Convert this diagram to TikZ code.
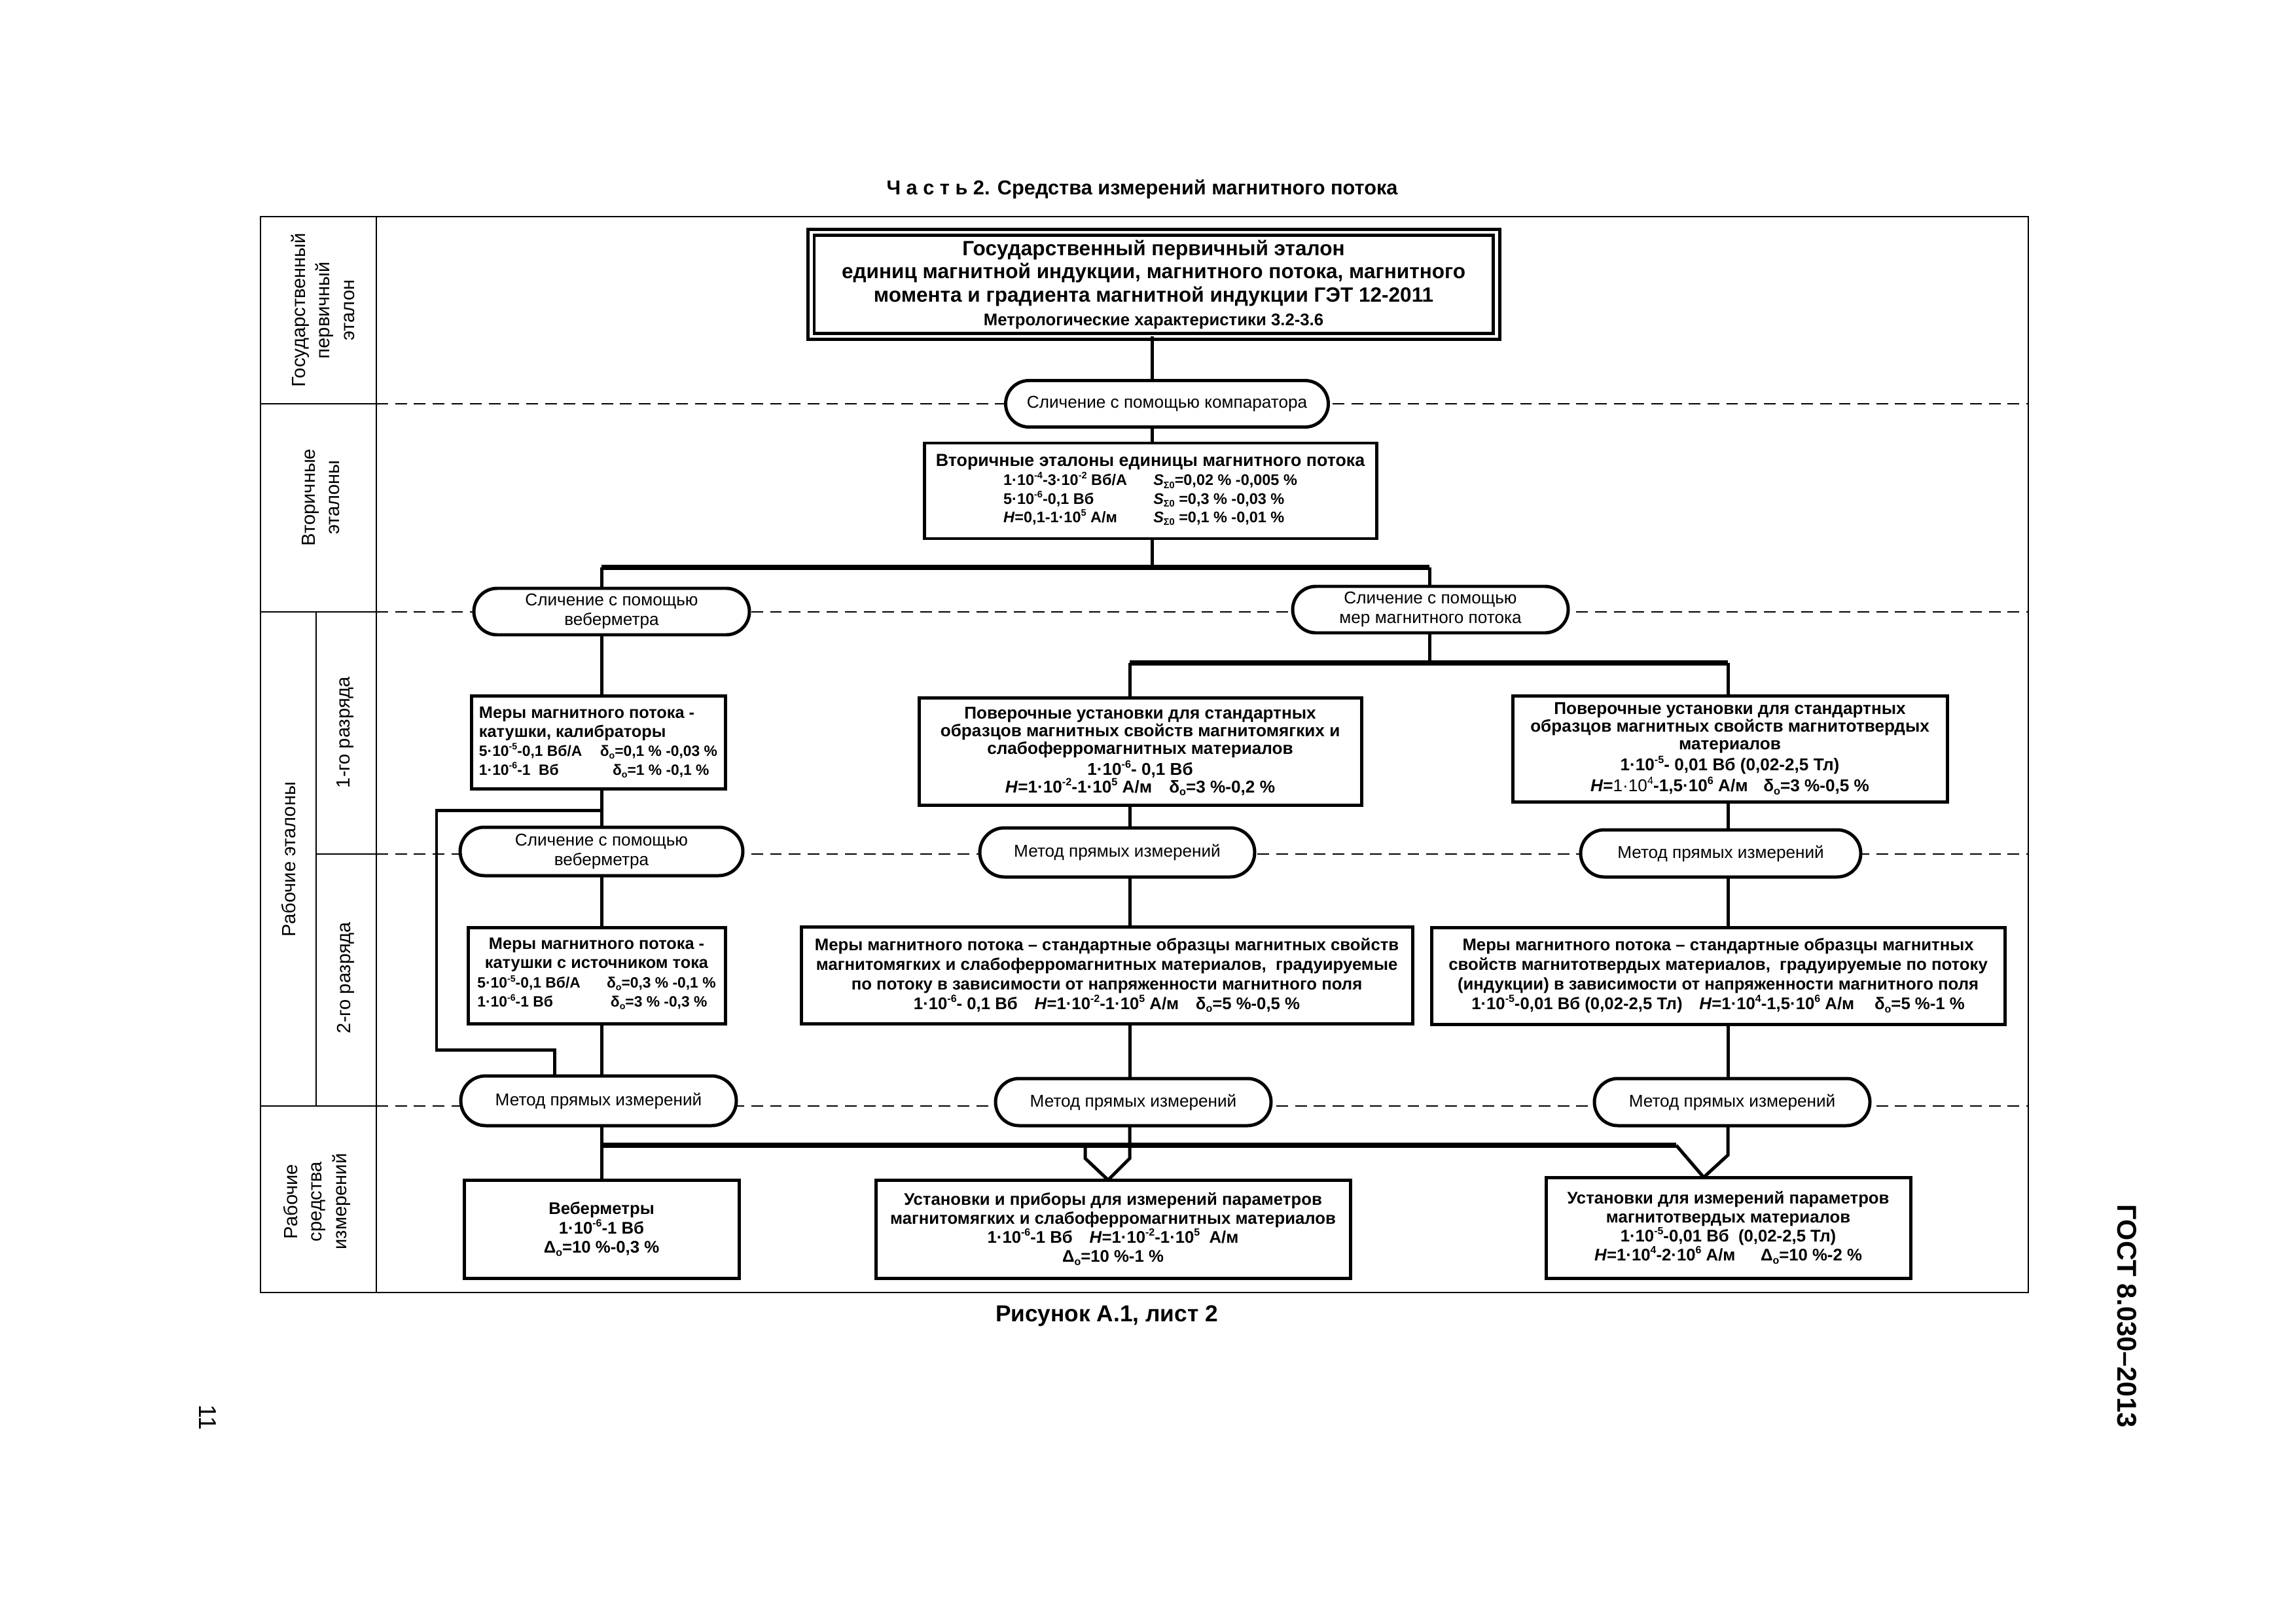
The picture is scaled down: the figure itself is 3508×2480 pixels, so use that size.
\documentclass[tikz,border=0pt]{standalone}
\usepackage{fontspec}
\setmainfont{Liberation Sans}
\usepackage{graphicx}
\usetikzlibrary{shapes.misc}
\newcommand\setfs[2]{\fontsize{#1}{#2}\selectfont}
\newcommand\sups[1]{\raisebox{0.42em}{\scalebox{0.62}{#1}}}
\newcommand\subs[1]{\raisebox{-0.18em}{\scalebox{0.62}{#1}}}
\def\pxu{0.08466mm}
\begin{document}
\begin{tikzpicture}[x=0.08466mm, y=-0.08466mm,
  every node/.style={inner sep=0pt, outer sep=0pt},
  frameline/.style={line width=0.5pt},
  rowdash/.style={line width=0.6pt, dash pattern=on 4.3pt off 2.6pt},
  conn/.style={line width=1.2pt},
  busline/.style={line width=1.7pt},
  rbox/.style={draw, line width=1.2pt, fill=white, align=center},
  oval/.style={draw, rounded rectangle, line width=1.2pt, fill=white, align=center, font=\setfs{6.3}{7.2}},
  rowlabel/.style={rotate=90, align=center, font=\setfs{7}{9}}]
\useasboundingbox[fill=white] (0,0) rectangle (3508,2480);

% frame
\draw[frameline] (398,331) rectangle (3099,1975);
\draw[frameline] (575,331) -- (575,1975);
\draw[frameline] (483,935) -- (483,1690);
\draw[frameline] (398,617) -- (575,617);
\draw[frameline] (398,935) -- (575,935);
\draw[frameline] (483,1305) -- (575,1305);
\draw[frameline] (398,1690) -- (575,1690);
\draw[rowdash] (575,617) -- (3099,617);
\draw[rowdash] (575,935) -- (3099,935);
\draw[rowdash] (575,1305) -- (3099,1305);
\draw[rowdash] (575,1690) -- (3099,1690);

% texts outside
\node[font=\setfs{7.4}{8}\bfseries] (title) at (1745,289) {Ч а с т ь 2. Средства измерений магнитного потока};
\node[font=\setfs{8.5}{10}\bfseries] (cap) at (1691,2011) {Рисунок А.1, лист 2};
\node[rotate=-90, font=\setfs{10}{12}\bfseries] (gost) at (3250,2011) {ГОСТ 8.030–2013};
\node[rotate=-90, font=\setfs{9}{10}] (pg) at (317,2166) {11};

% row labels
\node[rowlabel] (lab1) at (493,474) {Государственный\\первичный\\эталон};
\node[rowlabel] (lab2) at (490,760) {Вторичные\\эталоны};
\node[rowlabel] (lab3) at (441,1313) {Рабочие эталоны};
\node[rowlabel] (lab4) at (528,1119) {1-го разряда};
\node[rowlabel] (lab5) at (528,1494) {2-го разряда};
\node[rowlabel] (lab6) at (484,1836) {Рабочие\\средства\\измерений};

% nodes
\node[rbox, double, double distance=1.2pt, minimum width=1047*\pxu, minimum height=159*\pxu,
  font=\setfs{7.6}{8.6}\bfseries] (prim) at (1762.5,434.5)
  {Государственный первичный эталон\\
   единиц магнитной индукции, магнитного потока, магнитного\\
   момента и градиента магнитной индукции ГЭТ 12-2011\\
   {\fontsize{6.2}{8.6}\selectfont Метрологические характеристики 3.2-3.6}};

\node[oval, minimum width=493*\pxu, minimum height=71*\pxu] (C1) at (1783,617) {Сличение с помощью компаратора};

\node[rbox, minimum width=691*\pxu, minimum height=146*\pxu, font=\setfs{6.45}{6.6}\bfseries] (V) at (1757.5,750)
  {Вторичные эталоны единицы магнитного потока\\
   {\fontsize{5.65}{6.6}\selectfont\begin{tabular}{@{}l@{\hspace{3.4mm}}l@{}}
   1·10\sups{-4}-3·10\sups{-2} Вб/А & \textit{S}\subs{Σ0}=0,02 \% -0,005 \%\\
   5·10\sups{-6}-0,1 Вб & \textit{S}\subs{Σ0} =0,3 \% -0,03 \%\\
   \textit{H}=0,1-1·10\sups{5} А/м & \textit{S}\subs{Σ0} =0,1 \% -0,01 \%
   \end{tabular}}};

\node[oval, minimum width=421*\pxu, minimum height=71*\pxu] (C2) at (934.5,934.5) {Сличение с помощью\\веберметра};
\node[oval, minimum width=421*\pxu, minimum height=71*\pxu] (C3) at (2185.5,931.5) {Сличение с помощью\\мер магнитного потока};

\node[rbox, minimum width=388*\pxu, minimum height=142*\pxu, align=left, font=\setfs{6.1}{7}\bfseries] (M1) at (914,1134)
  {Меры магнитного потока -\\
   катушки, калибраторы\\
   {\fontsize{5.5}{7}\selectfont 5·10\sups{-5}-0,1 Вб/А\hspace{1.2em}δ\subs{o}=0,1 \% -0,03 \%}\\
   {\fontsize{5.5}{7}\selectfont 1·10\sups{-6}-1 \ Вб\hspace{3.6em}δ\subs{o}=1 \% -0,1 \%}};

\node[rbox, minimum width=676*\pxu, minimum height=164*\pxu, font=\setfs{6.3}{6.5}\bfseries] (P1) at (1742,1148)
  {Поверочные установки для стандартных\\
   образцов магнитных свойств магнитомягких и\\
   слабоферромагнитных материалов\\
   1·10\sups{-6}- 0,1 Вб\\
   \textit{H}=1·10\sups{-2}-1·10\sups{5} А/м\hspace{1em}δ\subs{o}=3 \%-0,2 \%};

\node[rbox, minimum width=664*\pxu, minimum height=162*\pxu, font=\setfs{6.3}{6.5}\bfseries] (P2) at (2643,1144)
  {Поверочные установки для стандартных\\
   образцов магнитных свойств магнитотвердых\\
   материалов\\
   1·10\sups{-5}- 0,01 Вб (0,02-2,5 Тл)\\
   \textit{H}={\mdseries 1·10\sups{4}}-1,5·10\sups{6} А/м\hspace{0.9em}δ\subs{o}=3 \%-0,5 \%};

\node[oval, minimum width=432*\pxu, minimum height=74*\pxu] (C4) at (919,1301) {Сличение с помощью\\веберметра};
\node[oval, minimum width=420*\pxu, minimum height=75*\pxu] (C8) at (1707,1302.5) {Метод прямых измерений};
\node[oval, minimum width=428*\pxu, minimum height=72*\pxu] (C9) at (2629,1304) {Метод прямых измерений};

\node[rbox, minimum width=393*\pxu, minimum height=147*\pxu, font=\setfs{6.1}{7}\bfseries] (M2) at (911.5,1490.5)
  {Меры магнитного потока -\\
   катушки с источником тока\\
   {\fontsize{5.5}{7}\selectfont\begin{tabular}{@{}l@{\hspace{3.4mm}}l@{}}
   5·10\sups{-5}-0,1 Вб/А & δ\subs{o}=0,3 \% -0,1 \%\\
   1·10\sups{-6}-1 Вб & \hspace{0.5mm}δ\subs{o}=3 \% -0,3 \%
   \end{tabular}}};

\node[rbox, minimum width=934*\pxu, minimum height=148*\pxu, font=\setfs{6.2}{7.2}\bfseries] (M3) at (1691,1490)
  {Меры магнитного потока – стандартные образцы магнитных свойств\\
   магнитомягких и слабоферромагнитных материалов,\ \ градуируемые\\
   по потоку в зависимости от напряженности магнитного поля\\
   1·10\sups{-6}- 0,1 Вб\hspace{1em}\textit{H}=1·10\sups{-2}-1·10\sups{5} А/м\hspace{1em}δ\subs{o}=5 \%-0,5 \%};

\node[rbox, minimum width=876*\pxu, minimum height=148*\pxu, font=\setfs{6.2}{7.2}\bfseries] (M4) at (2625,1491)
  {Меры магнитного потока – стандартные образцы магнитных\\
   свойств магнитотвердых материалов,\ \ градуируемые по потоку\\
   (индукции) в зависимости от напряженности магнитного поля\\
   1·10\sups{-5}-0,01 Вб (0,02-2,5 Тл)\hspace{1em}\textit{H}=1·10\sups{4}-1,5·10\sups{6} А/м\hspace{1.2em}δ\subs{o}=5 \%-1 \%};

\node[oval, minimum width=421*\pxu, minimum height=76*\pxu] (C5) at (914.5,1682) {Метод прямых измерений};
\node[oval, minimum width=421*\pxu, minimum height=72*\pxu] (C6) at (1731.5,1684) {Метод прямых измерений};
\node[oval, minimum width=421*\pxu, minimum height=72*\pxu] (C7) at (2646.5,1684) {Метод прямых измерений};

\node[rbox, minimum width=420*\pxu, minimum height=150*\pxu, font=\setfs{6.2}{7.2}\bfseries] (W1) at (919,1878)
  {Веберметры\\1·10\sups{-6}-1 Вб\\Δ\subs{o}=10 \%-0,3 \%};
\node[rbox, minimum width=725*\pxu, minimum height=150*\pxu, font=\setfs{6.2}{7}\bfseries] (P3) at (1700.5,1878)
  {Установки и приборы для измерений параметров\\
   магнитомягких и слабоферромагнитных материалов\\
   1·10\sups{-6}-1 Вб\hspace{1em}\textit{H}=1·10\sups{-2}-1·10\sups{5}\ \ А/м\\
   Δ\subs{o}=10 \%-1 \%};
\node[rbox, minimum width=557*\pxu, minimum height=154*\pxu, font=\setfs{6.2}{7}\bfseries] (P4) at (2640.5,1876)
  {Установки для измерений параметров\\
   магнитотвердых материалов\\
   1·10\sups{-5}-0,01 Вб\ \ (0,02-2,5 Тл)\\
   \textit{H}=1·10\sups{4}-2·10\sups{6} А/м\hspace{1.5em}Δ\subs{o}=10 \%-2 \%};

% connector helper coordinates
\coordinate (xL) at (919,0);
\coordinate (xC) at (1760,0);
\coordinate (xQ) at (2184,0);
\coordinate (xM) at (1726,0);
\coordinate (xR) at (2640,0);
\coordinate (yB1) at (0,867);
\coordinate (yB2) at (0,1013);
\coordinate (yB3) at (0,1750);
\coordinate (byA) at (667,1238);
\coordinate (byB) at (667,1604);
\coordinate (byC) at (847,1604);
\coordinate (bus3e) at (2561,1750);
\coordinate (tip3) at (1693,0);
\coordinate (tip4) at (2603,0);
\coordinate (k3a) at (1658,1770);
\coordinate (k3b) at (1726,1770);
\coordinate (k4) at (2640,1765);

% connectors
\draw[conn] (prim.south -| xC) -- (C1.north -| xC);
\draw[conn] (C1.south -| xC) -- (V.north -| xC);
\draw[conn] (V.south -| xC) -- (xC |- yB1);
\draw[busline] (xL |- yB1) -- (xQ |- yB1);
\draw[conn] (xL |- yB1) -- (C2.north -| xL);
\draw[conn] (xQ |- yB1) -- (C3.north -| xQ);
\draw[conn] (C2.south -| xL) -- (M1.north -| xL);
\draw[conn] (C3.south -| xQ) -- (xQ |- yB2);
\draw[busline] (xM |- yB2) -- (xR |- yB2);
\draw[conn] (xM |- yB2) -- (P1.north -| xM);
\draw[conn] (xR |- yB2) -- (P2.north -| xR);
\draw[conn] (M1.south -| xL) -- (C4.north -| xL);
\draw[conn] (P1.south -| xM) -- (C8.north -| xM);
\draw[conn] (P2.south -| xR) -- (C9.north -| xR);
\draw[conn] (C4.south -| xL) -- (M2.north -| xL);
\draw[conn] (C8.south -| xM) -- (M3.north -| xM);
\draw[conn] (C9.south -| xR) -- (M4.north -| xR);
\draw[conn] (M2.south -| xL) -- (C5.north -| xL);
\draw[conn] (M3.south -| xM) -- (C6.north -| xM);
\draw[conn] (M4.south -| xR) -- (C7.north -| xR);
\draw[conn] (byA -| xL) -- (byA) -- (byB) -- (byC) -- (C5.north -| byC);
\draw[conn] (C5.south -| xL) -- (W1.north -| xL);
\draw[busline] (xL |- yB3) -- (bus3e);
\draw[conn] (bus3e) -- (P4.north -| tip4);
\draw[conn] (C7.south -| xR) -- (k4) -- (P4.north -| tip4);
\draw[conn] (C6.south -| xM) -- (k3b) -- (P3.north -| tip3);
\draw[conn] (k3a |- yB3) -- (k3a) -- (P3.north -| tip3);
\end{tikzpicture}
\end{document}
